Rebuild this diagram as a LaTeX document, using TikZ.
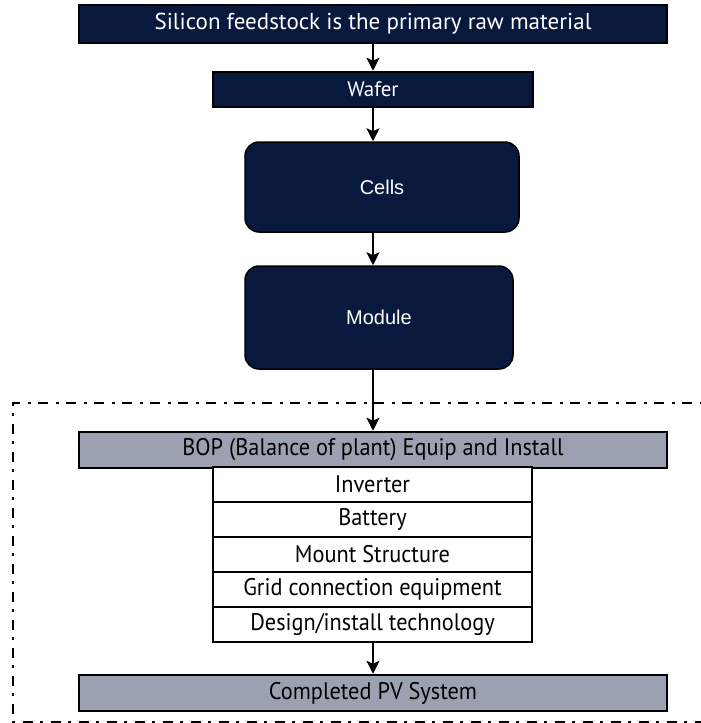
\documentclass[tikz,border=0pt]{standalone}
\usepackage{fontspec}
\setmainfont{PT Sans}
\newfontfamily\condfont[FakeStretch=0.93]{PT Sans}
\newfontfamily\arialfont{Liberation Sans}
\usetikzlibrary{arrows.meta}
\definecolor{navy}{RGB}{9,25,62}
\definecolor{slate}{RGB}{155,161,176}
\begin{document}
\begin{tikzpicture}[x=1pt,y=-1pt,
  darkbar/.style={draw=black,line width=2.5pt,fill=navy,text=white,inner sep=0pt},
  darkbox/.style={draw=black,line width=1.5pt,fill=navy,text=white,rounded corners=14pt,inner sep=0pt,font=\arialfont\fontsize{20}{22}\selectfont},
  graybar/.style={draw=black,line width=2.5pt,fill=slate,text=black,inner sep=0pt,minimum width=588pt,minimum height=36pt,font=\condfont\fontsize{24}{26}\selectfont},
  itembox/.style={draw=black,line width=2pt,fill=white,text=black,inner sep=0pt,minimum width=319pt,minimum height=35pt,font=\condfont\fontsize{24}{26}\selectfont},
  arr/.style={line width=2pt,-{Stealth[length=13pt,width=13pt,inset=3pt]}},
  groupline/.style={line width=2pt,dash pattern=on 10pt off 7pt on 3pt off 8pt}]
\useasboundingbox (0,0) rectangle (701,723);
\clip (0,0) rectangle (701,723);

% supply chain, upstream stages
\node[darkbar,minimum width=588pt,minimum height=38pt,font=\fontsize{23}{25}\selectfont] (feed) at (373,24) {Silicon feedstock is the primary raw material};
\node[darkbar,minimum width=320pt,minimum height=35pt,font=\fontsize{21}{23}\selectfont] (wafer) at (373,89.5) {Wafer};
\node[darkbox,minimum width=274pt,minimum height=90pt] (cells) at (382,187) {Cells};
\node[darkbox,minimum width=268pt,minimum height=103pt] (module) at (379,317.5) {Module};

% balance of plant group
\draw[groupline] (720,403) -- (13,403) -- (13,722) -- (720,722);
\node[graybar] (bop) at (373,450) {BOP (Balance of plant) Equip and Install};
\node[itembox] (inv) at (372.5,484.5) {Inverter};
\node[itembox] (bat) at (372.5,519.5) {Battery};
\node[itembox] (mount) at (372.5,554.5) {Mount Structure};
\node[itembox] (grid) at (372.5,589.5) {Grid connection equipment};
\node[itembox] (design) at (372.5,624.5) {Design/install technology};
\node[graybar] (pv) at (373,693) {Completed PV System};

% flow arrows
\draw[arr] (feed) -- (wafer);
\draw[arr] (wafer.south) -- (wafer.south |- cells.north);
\draw[arr] (wafer.south |- cells.south) -- (wafer.south |- module.north);
\draw[arr] (bop.north |- module.south) -- (bop.north);
\draw[arr] (pv.north |- design.south) -- (pv.north);
\end{tikzpicture}
\end{document}
